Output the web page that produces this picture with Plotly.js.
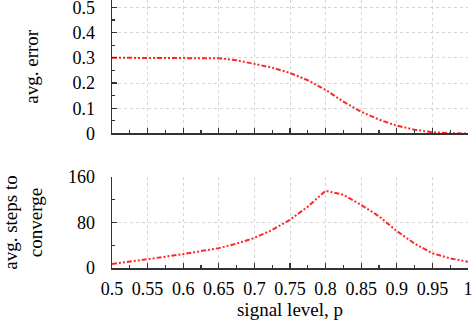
<!DOCTYPE html>
<html>
<head>
<meta charset="utf-8">
<script src="https://cdn.plot.ly/plotly-3.0.1.min.js"></script>
<style>html,body{margin:0;padding:0;background:#fff;}#chart{width:473px;height:330px;}</style>
</head>
<body>
<div id="chart"></div>
<script>
const signalLevel = [0.5,0.525,0.55,0.575,0.6,0.625,0.65,0.675,0.7,0.725,0.75,0.775,0.8,0.825,0.85,0.875,0.9,0.925,0.95,0.975,1.0];
const avgError = [0.300,0.300,0.300,0.300,0.300,0.300,0.298,0.290,0.276,0.261,0.240,0.211,0.173,0.126,0.086,0.055,0.031,0.015,0.005,0.001,0.000];
const avgSteps = [7,11,15.5,20,24.5,29.5,35,43,53,67,85,108,136,129,111,91,65,43,26,17,11];
const xTickVals = [0.5,0.55,0.6,0.65,0.7,0.75,0.8,0.85,0.9,0.95,1];
const xTickText = ['0.5','0.55','0.6','0.65','0.7','0.75','0.8','0.85','0.9','0.95','1'];

const SERIF = 'Liberation Serif';
const tickFont = {family: SERIF, size: 18, color: '#000'};
const titleFont = {family: SERIF, size: 19, color: '#000'};
const lineStyle = {color: 'rgba(255,0,0,0.85)', width: 2, dash: '5px,2px,2px,2px,2px,2px', shape: 'linear'};

function axisCommon() {
  return {
    showline: true, linecolor: '#333', linewidth: 1.5, mirror: false,
    ticks: 'inside', ticklen: 5, tickcolor: '#333', tickwidth: 1.2,
    showgrid: true, gridcolor: '#d6d6d6', griddash: 'dot', gridwidth: 1,
    zeroline: false, tickfont: {family: SERIF, size: 18, color: '#000'}, ticklabeloverflow: 'allow'
  };
}

const data = [
  {x: signalLevel, y: avgError, xaxis: 'x', yaxis: 'y', mode: 'lines', line: lineStyle, showlegend: false},
  {x: signalLevel, y: avgSteps, xaxis: 'x2', yaxis: 'y2', mode: 'lines', line: lineStyle, showlegend: false}
];

const layout = {
  width: 473, height: 330,
  margin: {l: 112, r: 5, t: 0, b: 62},
  paper_bgcolor: '#fff', plot_bgcolor: '#fff',
  font: {family: SERIF, size: 18, color: '#000'},
  xaxis: Object.assign(axisCommon(), {
    domain: [0, 1], anchor: 'y', range: [0.5, 1],
    tickvals: xTickVals, showticklabels: false,
    minor: {ticks: 'inside', ticklen: 3, dtick: 0.025, tick0: 0.5, tickcolor: '#333', showgrid: false}
  }),
  yaxis: Object.assign(axisCommon(), {
    domain: [0.502, 1], anchor: 'x', range: [0, 0.529],
    tickvals: [0, 0.1, 0.2, 0.3, 0.4, 0.5], ticktext: ['0','0.1','0.2','0.3','0.4','0.5'],
    ticklabelstandoff: 12,
    minor: {ticks: 'inside', ticklen: 3, dtick: 0.05, tick0: 0, tickcolor: '#333', showgrid: false},
    title: {text: 'avg. error', font: titleFont, standoff: 28}
  }),
  xaxis2: Object.assign(axisCommon(), {
    domain: [0, 1], anchor: 'y2', range: [0.5, 1],
    tickvals: xTickVals, ticktext: xTickText,
    ticklabelstandoff: 4,
    minor: {ticks: 'inside', ticklen: 3, dtick: 0.025, tick0: 0.5, tickcolor: '#333', showgrid: false},
    title: {text: 'signal level, p', font: titleFont, standoff: 2}
  }),
  yaxis2: Object.assign(axisCommon(), {
    domain: [0, 0.339], anchor: 'x2', range: [0, 160],
    tickvals: [0, 80, 160], ticktext: ['0','80','160'],
    ticklabelstandoff: 12,
    minor: {ticks: 'inside', ticklen: 3, dtick: 40, tick0: 0, tickcolor: '#333', showgrid: false},
    title: {text: 'avg. steps to<br>converge', font: titleFont, standoff: 20}
  })
};

Plotly.newPlot('chart', data, layout, {displayModeBar: false, staticPlot: true});
</script>
</body>
</html>
